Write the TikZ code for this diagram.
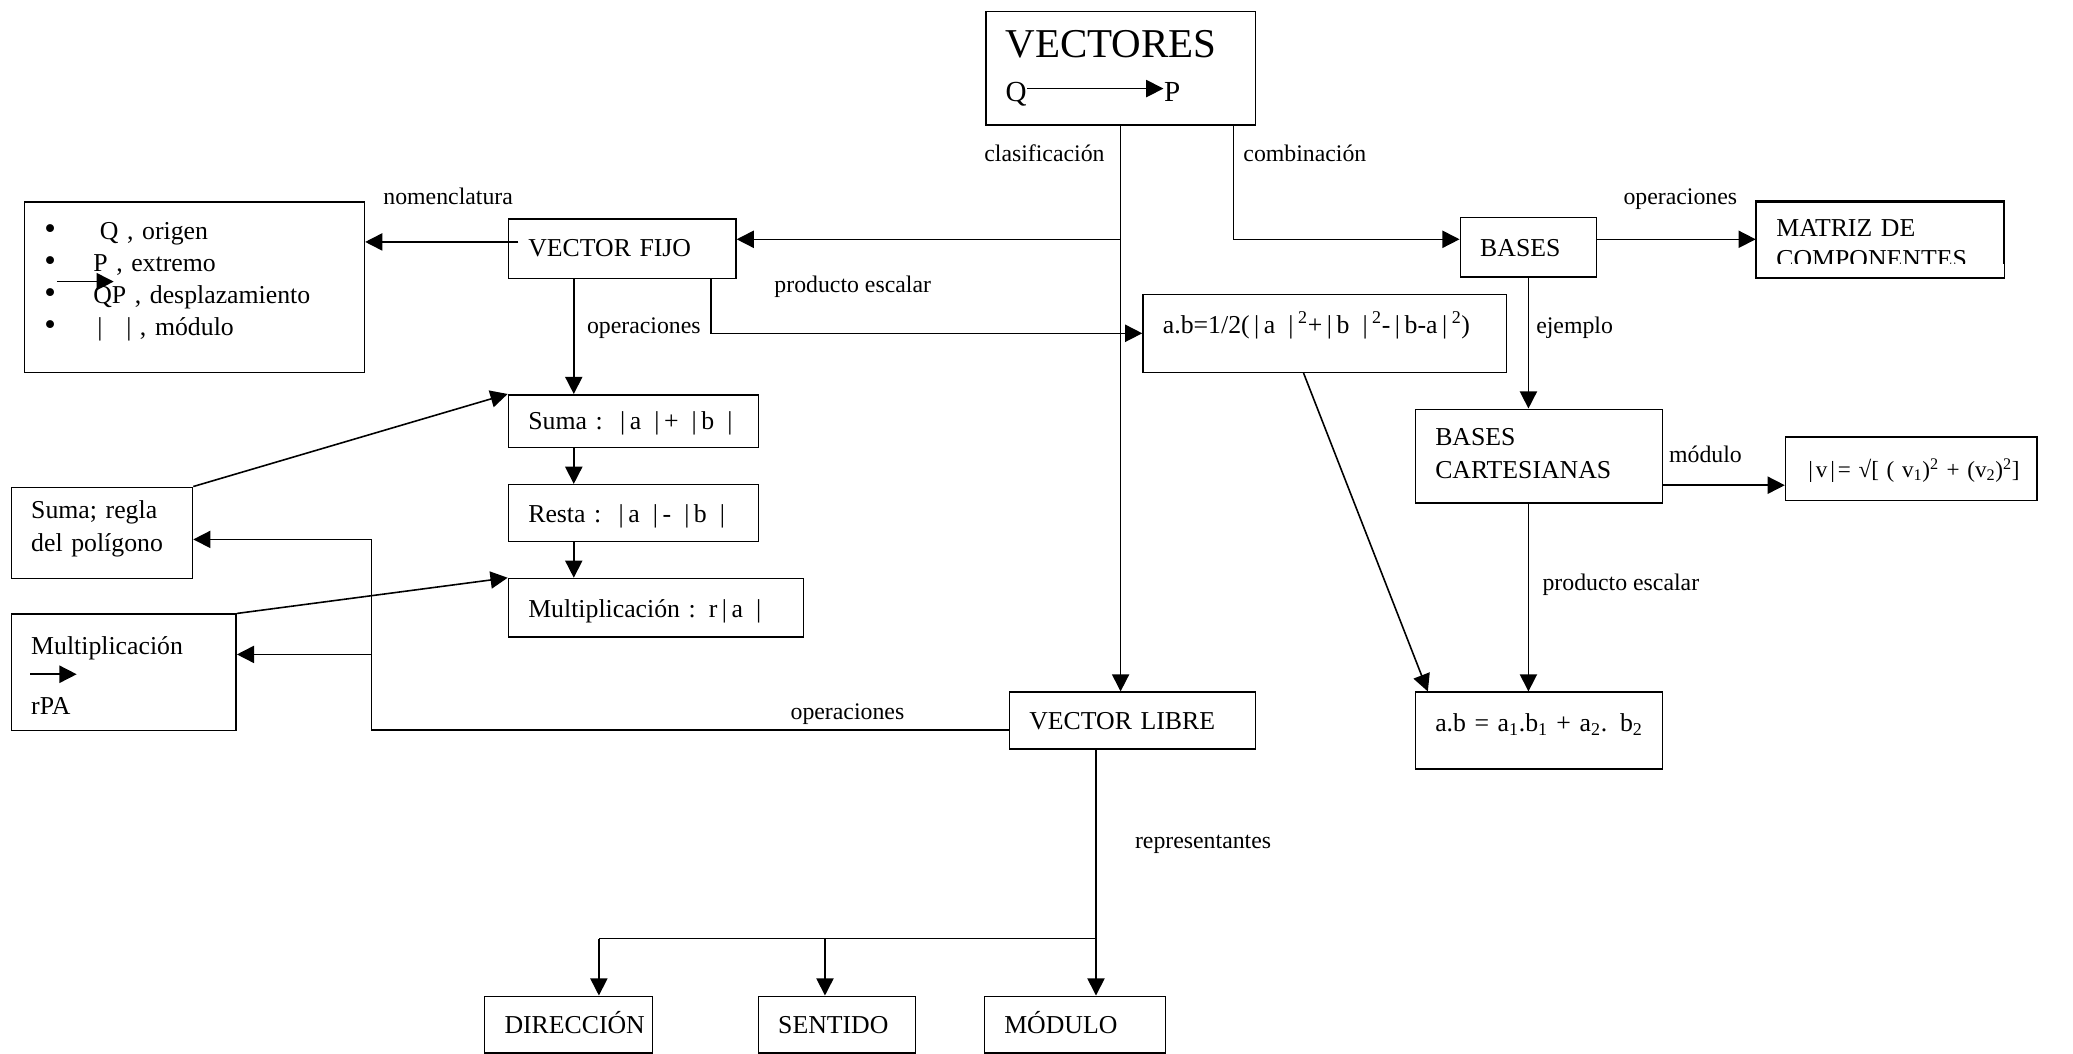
\documentclass[tikz,border=0pt]{standalone}
\usepackage{fontspec}
\setmainfont{Liberation Serif}
\usetikzlibrary{arrows.meta,calc}

\newcommand\bxfont{\fontsize{19.5}{24}\selectfont}
\newcommand\lblfont{\fontsize{18}{21}\selectfont}
\newcommand\vb{\makebox[0.55em]{|}}
\newcommand\blt{\makebox[37pt][l]{\fontsize{25}{24}\selectfont\textbullet}}

\tikzset{
  ln/.style={line width=1.2pt},
  arr/.style={ln, -{Triangle[length=13pt,width=13pt]}},
  box/.style n args={3}{draw, ln, anchor=north west, inner xsep=15pt, inner ysep=0pt,
    text width=#1pt, text height=#2pt, text depth=#3pt, align=left, font=\bxfont},
  lbl/.style={anchor=base, inner sep=0pt, font=\lblfont},
}

\begin{document}
\begin{tikzpicture}[x=1pt,y=-1pt]
\useasboundingbox (0,0) rectangle (1568,797);

% ---- boxes ----
\node[box={174}{35}{51}] (vec) at (745,8)
  {\fontsize{31}{34}\selectfont VECTORES\\[9pt]\fontsize{22}{34}\selectfont Q\hspace{104pt}P};
\node[box={227}{28.5}{100.5}, font=\fontsize{19.5}{24.3}\selectfont] (nom) at (18,152)
  {\blt\hspace{5pt}Q , origen\\
   \blt P , extremo\\
   \blt QP , desplazamiento\\
   \blt\hspace{3pt}|\hspace{18pt}| , módulo};
\node[box={142}{28.5}{16.5}] (vf) at (384,165) {\mbox{VECTOR FIJO}};
\node[box={245}{29.5}{29.5}] (ab) at (864,222)
  {\mbox{a.b=1/2(\vb a \vb\textsuperscript{2}+\vb b \vb\textsuperscript{2}-\vb b-a\vb\textsuperscript{2})}};
\node[box={159}{26.5}{13.5}] (suma) at (384,298) {\mbox{Suma : \vb a \vb+ \vb b \vb}};
\node[box={159}{28.5}{14.5}] (resta) at (384,366) {\mbox{Resta : \vb a \vb - \vb b \vb}};
\node[box={193}{29.5}{14.5}] (mult) at (384,437) {\mbox{Multiplicación : r\vb a \vb}};
\node[box={107}{23.5}{45.5}, font=\fontsize{19.5}{25}\selectfont] (sr) at (8,368)
  {Suma; regla\\del polígono};
\node[box={140}{30.5}{57.5}, font=\fontsize{19.5}{22.5}\selectfont] (mr) at (8,464)
  {Multiplicación\\[22.5pt]rPA};
\node[box={156}{28.5}{14.5}] (vl) at (763,523) {\mbox{VECTOR LIBRE}};
\node[box={97}{28.5}{14.5}] (dir) at (366,753) {\mbox{DIRECCIÓN}};
\node[box={89}{28.5}{14.5}] (sen) at (573,753) {\mbox{SENTIDO}};
\node[box={107}{28.5}{14.5}] (mod) at (744,753) {\mbox{MÓDULO}};
\node[box={73}{29.5}{15.5}] (bas) at (1104,164) {\mbox{BASES}};
\begin{scope}
  \clip (1300,140) rectangle (1540,199);
  \node[box={157}{26.5}{30.5}, font=\fontsize{19.5}{23}\selectfont] (mat) at (1328,152)
    {MATRIZ DE\\COMPONENTES};
\end{scope}
\draw[ln] (mat.north west) rectangle (mat.south east);
\node[box={157}{27.5}{43.5}, font=\fontsize{19.5}{25}\selectfont] (bc) at (1070,309)
  {BASES\\CARTESIANAS};
\node[box={160}{30.5}{17.5}, font=\fontsize{17.5}{22}\selectfont] (v) at (1350,330)
  {\mbox{\makebox[0.45em]{|}v\makebox[0.45em]{|}= √[ ( v\textsubscript{1})\textsuperscript{2} + (v\textsubscript{2})\textsuperscript{2}]}};
\node[box={157}{29.5}{28.5}] (ab2) at (1070,523)
  {\mbox{a.b = a\textsubscript{1}.b\textsubscript{1} + a\textsubscript{2}. b\textsubscript{2}}};

% ---- small vector arrows inside texts ----
\draw[arr] (777,67) -- (880,67);
\draw[arr] (43,213) -- (86,213);
\draw[arr] (23,510) -- (58,510);

% ---- guide coordinates ----
\coordinate (yA) at (0,181);
\coordinate (yN) at (0,183);
\coordinate (colA) at (434,0);
\coordinate (colB) at (538,0);
\coordinate (colC) at (986,0);
\coordinate (colD) at (1080,0);
\coordinate (xC) at (933,0);
\coordinate (xK) at (281,0);
\coordinate (yL) at (0,552);
\coordinate (yS) at (0,408);
\coordinate (yM) at (0,495);
\coordinate (xV) at (829,0);
\coordinate (yB) at (0,710);
\coordinate (xD) at (453,0);
\coordinate (xS) at (624,0);
\coordinate (yV) at (0,367);

% ---- clasificación branch ----
\draw[arr] (vec.south) -- (vec.south |- vl.north);
\draw[arr] (vec.south |- yA) -- (vf.east |- yA);
\draw[arr] ([xshift=8pt]vf.west |- yN) -- (nom.east |- yN);
\draw[arr] (vf.south -| colA) -- (suma.north -| colA);
\draw[arr] (suma.south -| colA) -- (resta.north -| colA);
\draw[arr] (resta.south -| colA) -- (mult.north -| colA);
\draw[arr] (vf.south -| colB) |- (ab.west);
\draw[arr] (ab.south -| colC) -- (ab2.north -| colD);
\draw[arr] (sr.north east) -- (suma.north west);
\draw[arr] (mr.north east) -- (mult.north west);
\draw[arr] (vl.west |- yL) -| (xK |- yS) -- (sr.east |- yS);
\draw[arr] (xK |- yM) -- (mr.east |- yM);
\draw[ln] (vl.south -| xV) -- (xV |- yB) -- (xD |- yB);
\draw[arr] (xV |- yB) -- (mod.north -| xV);
\draw[arr] (xD |- yB) -- (dir.north -| xD);
\draw[arr] (xS |- yB) -- (sen.north -| xS);

% ---- combinación branch ----
\draw[arr] (vec.south -| xC) |- (bas.west |- yA);
\draw[arr] (bas.east |- yA) -- (mat.west |- yA);
\draw[arr] (bas.south) -- (bas.south |- bc.north);
\draw[arr] (bc.east |- yV) -- (v.west |- yV);
\draw[arr] (bas.south |- bc.south) -- (bas.south |- ab2.north);

% ---- connector labels ----
\node[lbl] (t1) at (339,155) {nomenclatura};
\node[lbl] (t2) at (790,122) {clasificación};
\node[lbl] (t3) at (987,122) {combinación};
\node[lbl] (t4) at (645,221) {producto escalar};
\node[lbl] (t5) at (487,252) {operaciones};
\node[lbl] (t6) at (641,544) {operaciones};
\node[lbl] (t7) at (910,642) {representantes};
\node[lbl] (t8) at (1271,155) {operaciones};
\node[lbl] (t9) at (1191,252) {ejemplo};
\node[lbl] (t10) at (1290,350) {módulo};
\node[lbl] (t11) at (1226,447) {producto escalar};
\end{tikzpicture}
\end{document}
